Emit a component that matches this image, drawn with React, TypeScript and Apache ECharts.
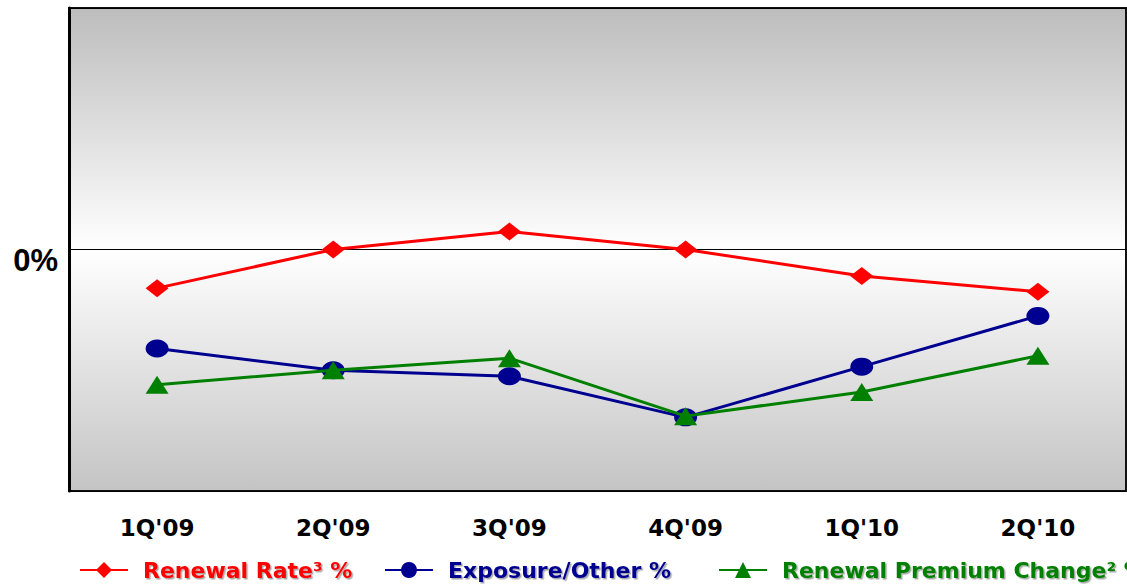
import React, { useEffect, useRef } from "react";
import * as echarts from "echarts";

const quarters = ["1Q'09", "2Q'09", "3Q'09", "4Q'09", "1Q'10", "2Q'10"];
const renewalRate = [-1.6, 0, 0.75, 0, -1.1, -1.75];
const exposureOther = [-4.1, -5.0, -5.25, -6.95, -4.85, -2.75];
const renewalPremiumChange = [-5.6, -5.0, -4.5, -6.9, -5.9, -4.4];

const seriesNames = ["Renewal Rate³ %", "Exposure/Other %", "Renewal Premium Change² %"];
const seriesColors = ["#ff0000", "#000090", "#008000"];
const seriesSymbols = ["diamond", "circle", "triangle"];
const seriesData = [renewalRate, exposureOther, renewalPremiumChange];
const legendLeft = [74, 379, 713];

export default function App() {
  const ref = useRef<HTMLDivElement>(null);

  useEffect(() => {
    if (!ref.current) return;
    const chart = echarts.init(ref.current, null, { renderer: "svg" });

    const legendText = {
      fontFamily: "DejaVu Sans",
      fontWeight: "bold" as const,
      fontSize: 22,
      padding: [0, 0, 0, 10],
      textShadowColor: "rgba(0,0,0,0.35)",
      textShadowOffsetX: 1.5,
      textShadowOffsetY: 1.5,
      textShadowBlur: 1,
    };

    chart.setOption({
      animation: false,
      grid: {
        left: 69,
        right: 1,
        top: 8,
        bottom: 93,
        show: true,
        borderColor: "#111",
        borderWidth: 2,
        backgroundColor: new echarts.graphic.LinearGradient(0, 0, 0, 1, [
          { offset: 0, color: "#bdbdbd" },
          { offset: 0.5, color: "#ffffff" },
          { offset: 1, color: "#c4c4c4" },
        ]),
      },
      legend: seriesNames.map((name, i) => ({
        left: legendLeft[i],
        top: 554,
        itemWidth: 48,
        itemHeight: 20,
        data: [{ name, textStyle: { ...legendText, color: seriesColors[i] } }],
      })),
      xAxis: {
        type: "category",
        data: quarters,
        boundaryGap: true,
        axisLine: { show: false },
        axisTick: { show: false },
        axisLabel: {
          margin: 25,
          color: "#000",
          fontFamily: "DejaVu Sans",
          fontWeight: "bold",
          fontSize: 23,
        },
      },
      yAxis: {
        type: "value",
        min: -10,
        max: 10,
        interval: 10,
        axisLine: { show: true, lineStyle: { color: "#000", width: 3 } },
        axisTick: { show: false },
        splitLine: { show: true, lineStyle: { color: "#000", width: 1 } },
        axisLabel: {
          margin: 11,
          color: "#000",
          fontFamily: "Liberation Sans",
          fontWeight: "bold",
          fontSize: 31,
          verticalAlign: "top",
          lineHeight: 21,
          formatter: (v: number) => (v === 0 ? "0%" : ""),
        },
      },
      series: seriesNames.map((name, i) => ({
        name,
        type: "line",
        data: seriesData[i],
        symbol: seriesSymbols[i],
        symbolSize: [23, 18],
        lineStyle: { color: seriesColors[i], width: 3 },
        itemStyle: { color: seriesColors[i] },
        z: 2 + i,
      })),
    });

    return () => chart.dispose();
  }, []);

  return <div ref={ref} style={{ width: 1127, height: 584, position: "absolute", left: 0, top: 0 }} />;
}
